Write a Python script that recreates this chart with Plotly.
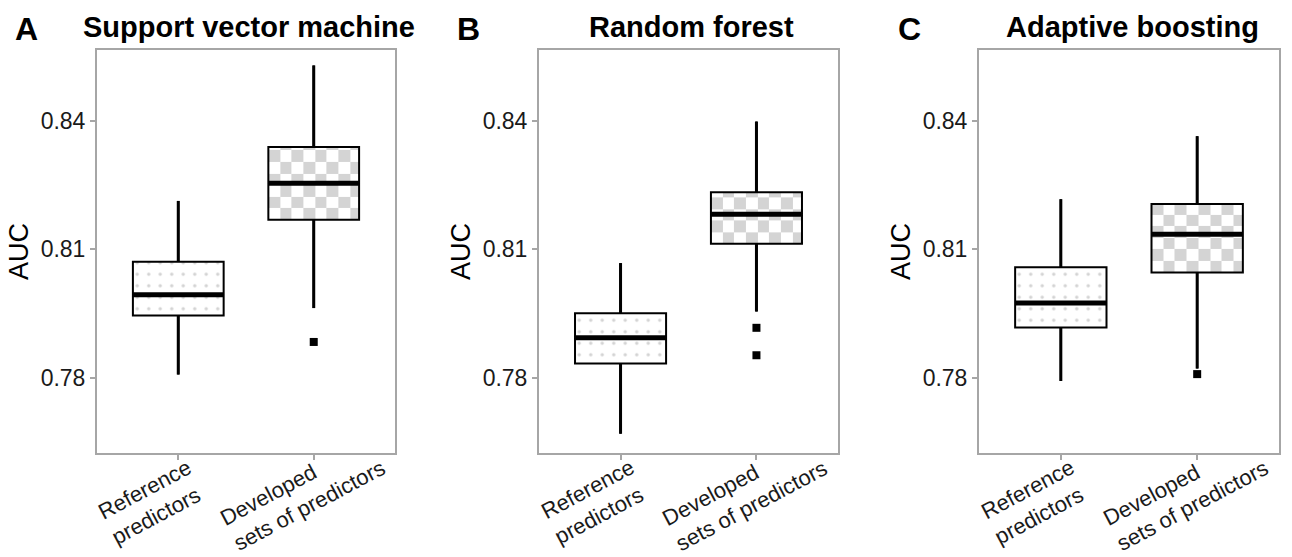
import numpy as np
import plotly.graph_objects as go

# ---------------- data ----------------
panel_titles = ["Support vector machine", "Random forest", "Adaptive boosting"]
panel_letters = ["A", "B", "C"]
categories = ["Reference<br>predictors", "Developed<br>sets of predictors"]
y_ticks = [0.78, 0.81, 0.84]
y_tick_labels = ["0.78", "0.81", "0.84"]

# Reference predictors (per panel A, B, C)
ref_lower = [0.7808, 0.7670, 0.7793]
ref_q1 = [0.7946, 0.7834, 0.7918]
ref_median = [0.7994, 0.7894, 0.7975]
ref_q3 = [0.8071, 0.7951, 0.8058]
ref_upper = [0.8213, 0.8068, 0.8217]
ref_outliers = [[], [], []]

# Developed sets of predictors
dev_lower = [0.7963, 0.7955, 0.7822]
dev_q1 = [0.8169, 0.8113, 0.8046]
dev_median = [0.8254, 0.8182, 0.8135]
dev_q3 = [0.8339, 0.8233, 0.8206]
dev_upper = [0.8529, 0.8398, 0.8364]
dev_outliers = [[0.7884], [0.7917, 0.7853], [0.7809]]

# ---------------- style / layout ----------------
W, H = 1292, 557
FONT = "Liberation Sans, Arial, Helvetica, sans-serif"
BOX_W = 0.67
POS = [1, 2]
x_domains = [(97, 395), (539, 838), (979, 1279)]
y_top_px, y_bot_px = 50, 453
y_range = [0.7625, 0.8565]
x_range = [0.4, 2.6]
label_xshift = [-26, -11]
label_yshift = [10, 35]

fig = go.Figure()

for p in range(3):
    ax = "" if p == 0 else str(p + 1)
    xa, ya = "x" + ax, "y" + ax

    # dotted fill for reference box
    fig.add_trace(go.Bar(
        x=[POS[0]], base=[ref_q1[p]], y=[ref_q3[p] - ref_q1[p]], width=BOX_W,
        marker=dict(color="white", line=dict(width=0),
                    pattern=dict(shape=".", fgcolor="#a8a8a8", bgcolor="white",
                                 size=11.5, solidity=0.07)),
        xaxis=xa, yaxis=ya, showlegend=False, hoverinfo="skip"))

    # checkerboard fill for developed box
    x0, x1 = POS[1] - BOX_W / 2, POS[1] + BOX_W / 2
    cx, cy = 0.086, 0.0027
    xe = list(np.arange(x0, x1, cx)) + [x1]
    ye = list(np.arange(dev_q1[p], dev_q3[p], cy)) + [dev_q3[p]]
    z = [[(i + j) % 2 for j in range(len(xe) - 1)] for i in range(len(ye) - 1)]
    fig.add_trace(go.Heatmap(
        x=xe, y=ye, z=z, zmin=0, zmax=1,
        colorscale=[[0, "white"], [1, "#d4d4d4"]], showscale=False,
        xaxis=xa, yaxis=ya, hoverinfo="skip"))

    # boxes
    fig.add_trace(go.Box(
        x=POS, q1=[ref_q1[p], dev_q1[p]], median=[ref_median[p], dev_median[p]],
        q3=[ref_q3[p], dev_q3[p]], lowerfence=[ref_lower[p], dev_lower[p]],
        upperfence=[ref_upper[p], dev_upper[p]], width=BOX_W, whiskerwidth=0,
        fillcolor="rgba(0,0,0,0)", line=dict(color="black", width=2),
        boxpoints=False, xaxis=xa, yaxis=ya, showlegend=False, hoverinfo="skip"))

    # thicker whiskers
    wx, wy = [], []
    for pos, lo, q1, q3, hi in zip(POS, [ref_lower[p], dev_lower[p]], [ref_q1[p], dev_q1[p]],
                                   [ref_q3[p], dev_q3[p]], [ref_upper[p], dev_upper[p]]):
        wx += [pos, pos, None, pos, pos, None]
        wy += [lo, q1, None, q3, hi, None]
    fig.add_trace(go.Scatter(x=wx, y=wy, mode="lines",
                             line=dict(color="black", width=3),
                             xaxis=xa, yaxis=ya, showlegend=False, hoverinfo="skip"))

    # thick medians
    mx, my = [], []
    for pos, med in zip(POS, [ref_median[p], dev_median[p]]):
        mx += [pos - BOX_W / 2, pos + BOX_W / 2, None]
        my += [med, med, None]
    fig.add_trace(go.Scatter(x=mx, y=my, mode="lines",
                             line=dict(color="black", width=5),
                             xaxis=xa, yaxis=ya, showlegend=False, hoverinfo="skip"))

    # outliers
    ox = [POS[0]] * len(ref_outliers[p]) + [POS[1]] * len(dev_outliers[p])
    oy = ref_outliers[p] + dev_outliers[p]
    fig.add_trace(go.Scatter(x=ox, y=oy, mode="markers",
                             marker=dict(symbol="square", size=8, color="black"),
                             xaxis=xa, yaxis=ya, showlegend=False, hoverinfo="skip"))

    d0, d1 = x_domains[p]
    axis_common = dict(showline=True, mirror=True, linecolor="#a6a6a6", linewidth=2,
                       showgrid=False, zeroline=False, ticks="outside", ticklen=5,
                       tickcolor="#a6a6a6", tickwidth=2)
    fig.layout["xaxis" + ax] = dict(
        domain=[d0 / W, d1 / W], range=x_range, tickvals=POS,
        showticklabels=False, anchor=ya, **axis_common)
    fig.layout["yaxis" + ax] = dict(
        domain=[1 - y_bot_px / H, 1 - y_top_px / H], range=y_range,
        tickvals=y_ticks, ticktext=y_tick_labels, anchor=xa,
        tickfont=dict(size=23, color="#1a1a1a", family=FONT),
        title=dict(text="AUC", font=dict(size=27, color="black", family=FONT), standoff=4),
        **axis_common)

    # panel title and letter
    fig.add_annotation(text="<b>%s</b>" % panel_titles[p], xref="paper", yref="paper",
                       x=((d0 + d1) / 2 + 3) / W, y=1 - 27 / H, xanchor="center",
                       yanchor="middle", showarrow=False,
                       font=dict(size=29, color="black", family=FONT))
    fig.add_annotation(text="<b>%s</b>" % panel_letters[p], xref="paper", yref="paper",
                       x=(d0 - 70) / W, y=1 - 29 / H, xanchor="center",
                       yanchor="middle", showarrow=False,
                       font=dict(size=32, color="black", family=FONT))

    # category labels
    for k in range(2):
        fig.add_annotation(text=categories[k], xref=xa, yref="paper",
                           x=POS[k], y=1 - 462 / H, xanchor="center", yanchor="top",
                           xshift=label_xshift[k], yshift=label_yshift[k],
                           textangle=-28, align="left", showarrow=False,
                           font=dict(size=22, color="#1a1a1a", family=FONT))

fig.update_layout(width=W, height=H, margin=dict(l=0, r=0, t=0, b=0),
                  plot_bgcolor="white", paper_bgcolor="white",
                  barmode="overlay", boxmode="overlay", showlegend=False,
                  font=dict(family=FONT))

fig.write_html("out.html", config={"displayModeBar": False},
               post_script="document.body.style.margin='0';")
